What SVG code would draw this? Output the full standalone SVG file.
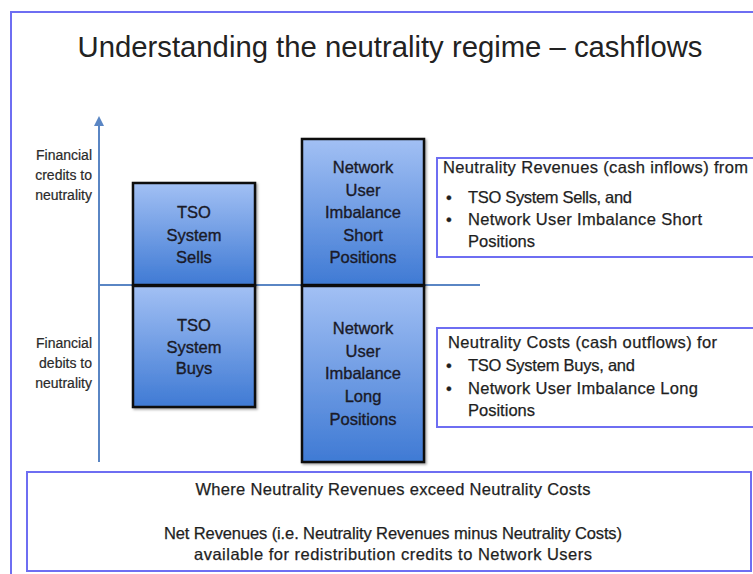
<svg xmlns="http://www.w3.org/2000/svg" width="753" height="574" viewBox="0 0 753 574">
<style>
.t{font-family:"Liberation Sans",Arial,sans-serif;fill:#222;}
.box{fill:url(#g);stroke:#111;stroke-width:2.5;}
.bt{font-family:"Liberation Sans",Arial,sans-serif;font-size:16.5px;fill:#1a1a28;stroke:#1a1a28;stroke-width:0.35;text-anchor:middle;}
.ax{font-family:"Liberation Sans",Arial,sans-serif;font-size:14px;fill:#2a2a2a;stroke:#2a2a2a;stroke-width:0.2;text-anchor:end;}
.frame{fill:#fff;stroke:#6e6ef2;stroke-width:2;}
.nt{font-family:"Liberation Sans",Arial,sans-serif;font-size:16.5px;fill:#1e1e1e;stroke:#1e1e1e;stroke-width:0.25;}
.axis{stroke:#5a86c4;stroke-width:2;fill:none;}
</style>
<defs>
<linearGradient id="g" x1="0" y1="0" x2="0" y2="1">
<stop offset="0" stop-color="#a2c0f4"/>
<stop offset="1" stop-color="#3f7ad4"/>
</linearGradient>
<marker id="ah" viewBox="0 0 10 10" refX="5" refY="5" markerWidth="5" markerHeight="5" orient="auto">
<path d="M0,0 L10,5 L0,10 z" fill="#5a86c4"/>
</marker>
<filter id="sh" x="-10%" y="-10%" width="130%" height="130%">
<feDropShadow dx="1.5" dy="1.5" stdDeviation="1.2" flood-color="#000" flood-opacity="0.35"/>
</filter>
</defs>
<rect width="753" height="574" fill="#fff"/>
<rect class="frame" x="11" y="12" width="760" height="580"/>
<text class="t" x="390" y="57" font-size="29" text-anchor="middle" textLength="625" lengthAdjust="spacingAndGlyphs">Understanding the neutrality regime – cashflows</text>

<g id="connectors">
<line class="axis" x1="99" y1="462" x2="99" y2="121" marker-end="url(#ah)"/>
<line class="axis" x1="99" y1="285" x2="480" y2="285"/>
</g>

<g id="axis-labels">
<text class="ax" x="92" y="160">Financial</text>
<text class="ax" x="92" y="180">credits to</text>
<text class="ax" x="92" y="200">neutrality</text>
<text class="ax" x="92" y="348">Financial</text>
<text class="ax" x="92" y="368">debits to</text>
<text class="ax" x="92" y="388">neutrality</text>
</g>

<g id="tso-sells">
<rect class="box" x="133" y="183" width="122" height="102" filter="url(#sh)"/>
<text class="bt" x="194" y="218">TSO</text>
<text class="bt" x="194" y="241">System</text>
<text class="bt" x="194" y="263">Sells</text>
</g>
<g id="tso-buys">
<rect class="box" x="133" y="286" width="122" height="121" filter="url(#sh)"/>
<text class="bt" x="194" y="331">TSO</text>
<text class="bt" x="194" y="353">System</text>
<text class="bt" x="194" y="374">Buys</text>
</g>
<g id="nu-short">
<rect class="box" x="302" y="139" width="122" height="146" filter="url(#sh)"/>
<text class="bt" x="363" y="173">Network</text>
<text class="bt" x="363" y="196">User</text>
<text class="bt" x="363" y="218">Imbalance</text>
<text class="bt" x="363" y="241">Short</text>
<text class="bt" x="363" y="263">Positions</text>
</g>
<g id="nu-long">
<rect class="box" x="302" y="286" width="122" height="176" filter="url(#sh)"/>
<text class="bt" x="363" y="334">Network</text>
<text class="bt" x="363" y="357">User</text>
<text class="bt" x="363" y="379">Imbalance</text>
<text class="bt" x="363" y="402">Long</text>
<text class="bt" x="363" y="425">Positions</text>
</g>

<g id="revenues">
<rect class="frame" x="437" y="158" width="330" height="99"/>
<text class="nt" x="443" y="173" textLength="305">Neutrality Revenues (cash inflows) from</text>
<text class="nt" x="446" y="203">•</text>
<text class="nt" x="468" y="203" textLength="164">TSO System Sells, and</text>
<text class="nt" x="446" y="225">•</text>
<text class="nt" x="468" y="225" textLength="234">Network User Imbalance Short</text>
<text class="nt" x="468" y="247" textLength="67">Positions</text>
</g>
<g id="costs">
<rect class="frame" x="437" y="328" width="330" height="99"/>
<text class="nt" x="448" y="348" textLength="269">Neutrality Costs (cash outflows) for</text>
<text class="nt" x="446" y="371">•</text>
<text class="nt" x="468" y="371" textLength="167">TSO System Buys, and</text>
<text class="nt" x="446" y="394">•</text>
<text class="nt" x="468" y="394" textLength="230">Network User Imbalance Long</text>
<text class="nt" x="468" y="416" textLength="67">Positions</text>
</g>
<g id="net">
<rect class="frame" x="27" y="472" width="724" height="99"/>
<text class="nt" x="393" y="495" text-anchor="middle" textLength="395">Where Neutrality Revenues exceed Neutrality Costs</text>
<text class="nt" x="393" y="539" text-anchor="middle" textLength="458">Net Revenues (i.e. Neutrality Revenues minus Neutrality Costs)</text>
<text class="nt" x="393" y="560" text-anchor="middle" textLength="398">available for redistribution credits to Network Users</text>
</g>
</svg>
